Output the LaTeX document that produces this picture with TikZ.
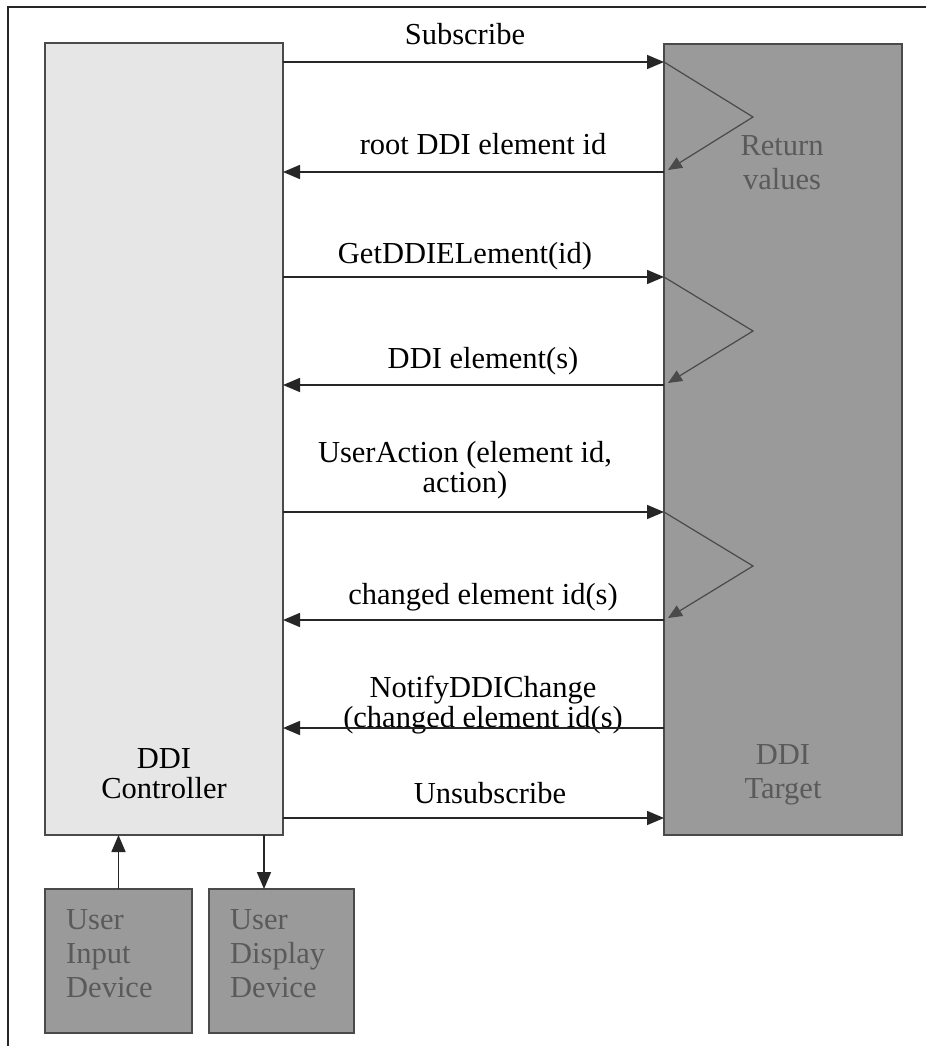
\documentclass[tikz,border=0pt]{standalone}
\usepackage{fontspec}
\setmainfont{Liberation Serif}
\usetikzlibrary{arrows.meta}
\definecolor{lightbox}{HTML}{E6E6E6}
\definecolor{darkbox}{HTML}{9A9A9A}
\definecolor{boxline}{HTML}{4A4A4A}
\definecolor{graytext}{HTML}{5A5A5A}
\tikzset{
  msg/.style={draw=black!85, line width=1.6pt, -{Triangle[length=17pt,width=14pt]}},
  ret/.style={draw=boxline, line width=1.2pt, -{Triangle[length=14pt,width=12pt]}},
  lbl/.style={font=\fontsize{30.5}{30}\selectfont, text=black, align=center, inner sep=0pt, anchor=base},
  inlbl/.style={font=\fontsize{30.5}{34}\selectfont, text=graytext, align=center, inner sep=0pt, anchor=base},
  lightblock/.style={draw=boxline, line width=1.4pt, fill=lightbox, inner sep=0pt, outer sep=0pt},
  darkblock/.style={draw=boxline, line width=1.4pt, fill=darkbox, inner sep=0pt, outer sep=0pt},
}
\begin{document}
\begin{tikzpicture}[x=1pt,y=-1pt]
\useasboundingbox (0,0) rectangle (926,1046);
\fill[white] (0,0) rectangle (926,1046);
% outer frame
\draw[line width=1.6pt, black!85] (8,1046) -- (8,7) -- (926,7);
% blocks
\node[lightblock, minimum width=238pt, minimum height=792pt] (ctrl) at (164,439) {};
\node[darkblock, minimum width=238pt, minimum height=791pt] (tgt) at (783,439.5) {};
\node[darkblock, minimum width=147pt, minimum height=144pt] (inp) at (118.5,961) {};
\node[darkblock, minimum width=145pt, minimum height=144pt] (disp) at (281.5,961) {};
% texts in blocks (base = last line baseline)
\node[lbl] (ctrltxt) at (164,798) {DDI\\Controller};
\node[inlbl] (tgttxt) at (783,798) {DDI\\Target};
\node[inlbl] (rettxt) at (782,189) {Return\\values};
\node[inlbl, align=left, anchor=base west] (inptxt) at (66,997) {User\\Input\\Device};
\node[inlbl, align=left, anchor=base west] (disptxt) at (230,997) {User\\Display\\Device};
% message labels (base anchors)
\node[lbl] (l1) at (465,45) {Subscribe};
\node[lbl] (l2) at (483,154) {root DDI element id};
\node[lbl] (l3) at (465,263) {GetDDIELement(id)};
\node[lbl] (l4) at (483,368) {DDI element(s)};
\node[lbl] (l5) at (465,492) {UserAction (element id,\\action)};
\node[lbl] (l6) at (483,604) {changed element id(s)};
\node[lbl] (l7) at (483,727) {NotifyDDIChange\\(changed element id(s)};
\node[lbl] (l8) at (490,803) {Unsubscribe};
% messages
\draw[msg] (ctrl.east |- 0,62) -- (tgt.west |- 0,62);
\draw[msg] (tgt.west |- 0,172) -- (ctrl.east |- 0,172);
\draw[msg] (ctrl.east |- 0,277) -- (tgt.west |- 0,277);
\draw[msg] (tgt.west |- 0,385) -- (ctrl.east |- 0,385);
\draw[msg] (ctrl.east |- 0,512) -- (tgt.west |- 0,512);
\draw[msg] (tgt.west |- 0,620) -- (ctrl.east |- 0,620);
\draw[msg] (tgt.west |- 0,728) -- (ctrl.east |- 0,728);
\draw[msg] (ctrl.east |- 0,818) -- (tgt.west |- 0,818);
% return value zigzags
\coordinate (v1) at (753,117);
\coordinate (v2) at (753,331);
\coordinate (v3) at (753,566);
\draw[ret] (tgt.west |- 0,62) -- (v1) -- (668,170);
\draw[ret] (tgt.west |- 0,277) -- (v2) -- (668,383);
\draw[ret] (tgt.west |- 0,512) -- (v3) -- (668,618);
% device connections
\draw[msg] (inp.north) -- (ctrl.south -| inp.north);
\draw[msg] (ctrl.south -| 264,0) -- (disp.north -| 264,0);
\end{tikzpicture}
\end{document}
